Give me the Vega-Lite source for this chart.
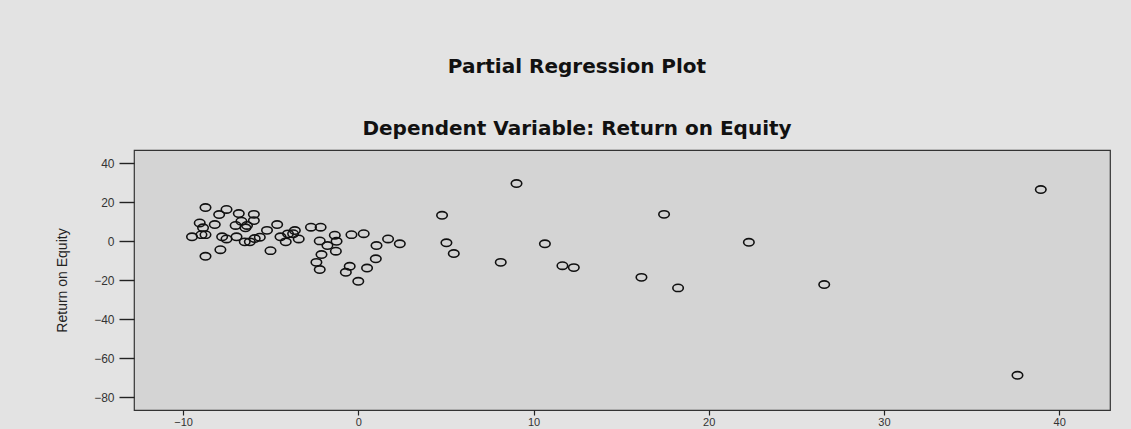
{
  "$schema": "https://vega.github.io/schema/vega-lite/v6.json",
  "autosize": {"type": "none"},
  "width": 976,
  "height": 260,
  "padding": {"left": 134, "top": 150, "right": 21, "bottom": 19},
  "background": "#e3e3e3",
  "config": {
    "view": {"fill": "#d4d4d4", "stroke": "#333333", "strokeWidth": 1.2},
    "font": "Liberation Sans"
  },
  "title": {
    "text": "Partial Regression Plot",
    "subtitle": "Dependent Variable: Return on Equity",
    "font": "DejaVu Sans",
    "fontWeight": "bold",
    "fontSize": 20,
    "color": "#111111",
    "subtitleFont": "DejaVu Sans",
    "subtitleFontWeight": "bold",
    "subtitleFontSize": 20,
    "subtitleColor": "#111111",
    "subtitlePadding": 42,
    "offset": 11,
    "anchor": "middle",
    "dx": -45
  },
  "data": {
    "values": [
      {"x": -9.49, "roe": 2.3}, {"x": -8.72, "roe": 17.3}, {"x": -9.05, "roe": 9.4}, {"x": -8.86, "roe": 6.9},
      {"x": -8.95, "roe": 3.4}, {"x": -8.72, "roe": 3.4}, {"x": -8.72, "roe": -7.7}, {"x": -8.19, "roe": 8.6},
      {"x": -7.94, "roe": 13.7}, {"x": -7.52, "roe": 16.3}, {"x": -7.87, "roe": -4.3}, {"x": -7.77, "roe": 2.3},
      {"x": -7.52, "roe": 1.2}, {"x": -6.95, "roe": 2.3}, {"x": -7.0, "roe": 8.1}, {"x": -6.82, "roe": 14.2},
      {"x": -6.67, "roe": 10.3}, {"x": -6.44, "roe": 6.9}, {"x": -6.35, "roe": 8.1}, {"x": -6.48, "roe": -0.3},
      {"x": -6.19, "roe": -0.3}, {"x": -5.96, "roe": 13.8}, {"x": -5.96, "roe": 10.6}, {"x": -5.91, "roe": 1.4},
      {"x": -5.62, "roe": 2.1}, {"x": -5.21, "roe": 5.6}, {"x": -5.01, "roe": -4.8}, {"x": -4.63, "roe": 8.6},
      {"x": -4.44, "roe": 2.3}, {"x": -4.14, "roe": -0.3}, {"x": -4.01, "roe": 3.8}, {"x": -3.62, "roe": 5.5},
      {"x": -3.72, "roe": 3.9}, {"x": -3.4, "roe": 1.2}, {"x": -2.7, "roe": 7.2}, {"x": -2.15, "roe": 7.2},
      {"x": -2.2, "roe": 0.2}, {"x": -2.1, "roe": -6.8}, {"x": -2.39, "roe": -10.8}, {"x": -2.2, "roe": -14.5},
      {"x": -1.76, "roe": -2.2}, {"x": -1.34, "roe": 3.1}, {"x": -1.24, "roe": 0.0}, {"x": -1.28, "roe": -5.1},
      {"x": -0.71, "roe": -15.9}, {"x": -0.49, "roe": -12.8}, {"x": -0.39, "roe": 3.4}, {"x": 0.0, "roe": -20.5},
      {"x": 0.31, "roe": 3.9}, {"x": 0.5, "roe": -13.7}, {"x": 1.0, "roe": -9.0}, {"x": 1.04, "roe": -2.2},
      {"x": 1.7, "roe": 1.2}, {"x": 2.37, "roe": -1.3}, {"x": 4.78, "roe": 13.3}, {"x": 5.03, "roe": -0.8},
      {"x": 5.45, "roe": -6.3}, {"x": 9.03, "roe": 29.6}, {"x": 8.13, "roe": -10.8}, {"x": 10.65, "roe": -1.3},
      {"x": 11.65, "roe": -12.5}, {"x": 12.3, "roe": -13.5}, {"x": 17.45, "roe": 13.8}, {"x": 16.16, "roe": -18.5},
      {"x": 18.25, "roe": -23.9}, {"x": 22.29, "roe": -0.5}, {"x": 26.59, "roe": -22.2}, {"x": 38.95, "roe": 26.5},
      {"x": 37.62, "roe": -68.7}
    ]
  },
  "mark": {
    "type": "point",
    "shape": "M -1 0 A 1 0.7 0 1 0 1 0 A 1 0.7 0 1 0 -1 0 Z",
    "size": 110,
    "filled": false,
    "stroke": "#111111",
    "strokeWidth": 1.6,
    "opacity": 1
  },
  "encoding": {
    "x": {
      "field": "x",
      "type": "quantitative",
      "scale": {"domain": [-12.8, 42.9], "nice": false, "zero": false},
      "axis": {
        "title": null,
        "values": [-10, 0, 10, 20, 30, 40],
        "grid": false,
        "domain": false,
        "tickSize": 5,
        "tickColor": "#222222",
        "tickWidth": 1.2,
        "labelPadding": 1,
        "labelFont": "Liberation Sans",
        "labelFontSize": 11,
        "labelColor": "#333333"
      }
    },
    "y": {
      "field": "roe",
      "type": "quantitative",
      "scale": {"domain": [-86.5, 46.8], "nice": false, "zero": false},
      "axis": {
        "title": "Return on Equity",
        "titleFont": "Liberation Sans",
        "titleFontWeight": "normal",
        "titleFontSize": 14,
        "titleColor": "#222222",
        "titlePadding": 24,
        "values": [-80, -60, -40, -20, 0, 20, 40],
        "grid": false,
        "domain": false,
        "tickSize": 15,
        "tickColor": "#222222",
        "tickWidth": 1.4,
        "labelPadding": 5,
        "labelFont": "Liberation Sans",
        "labelFontSize": 12,
        "labelColor": "#333333"
      }
    }
  }
}
